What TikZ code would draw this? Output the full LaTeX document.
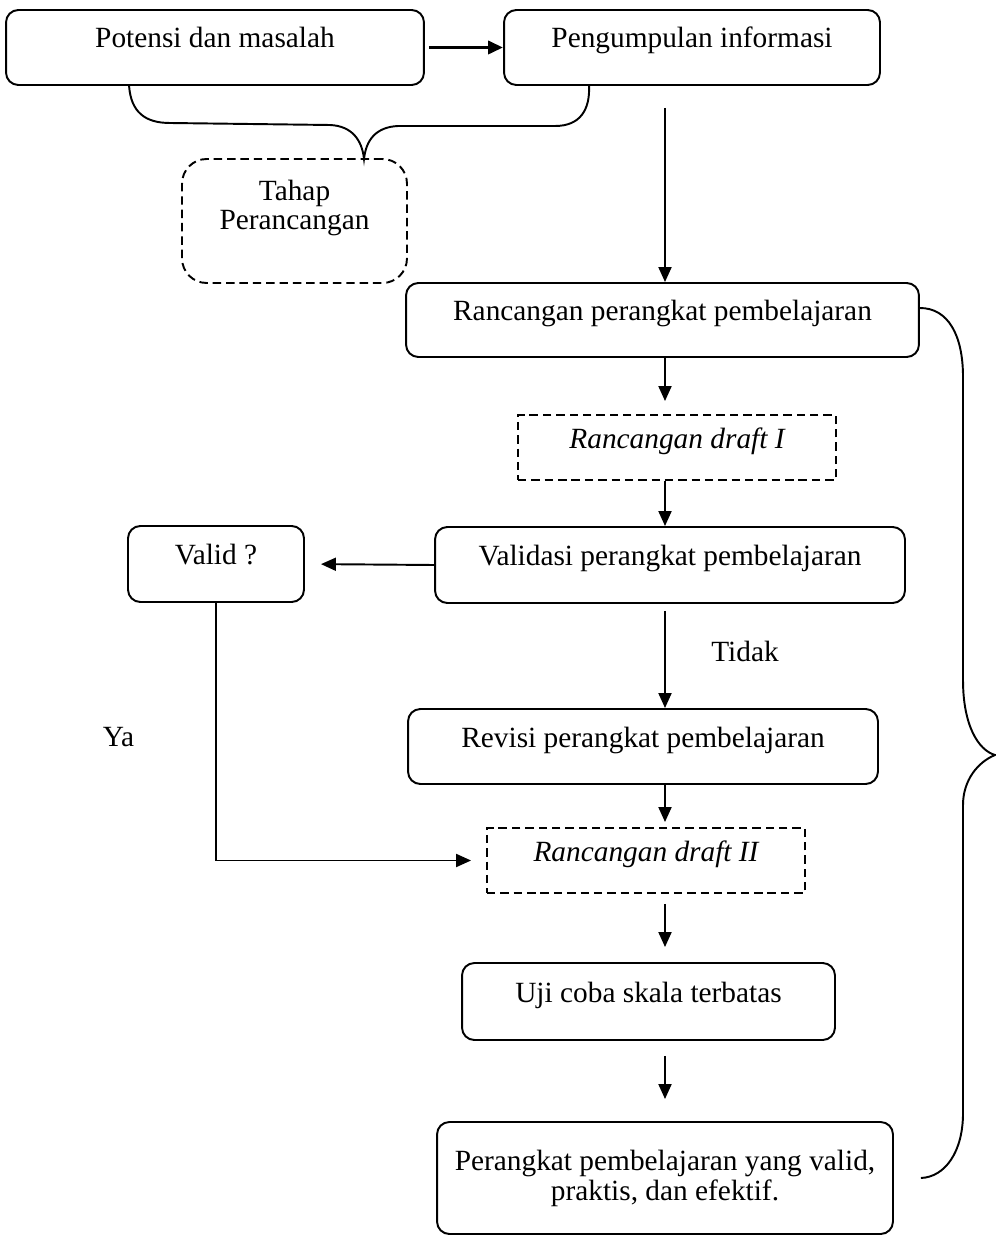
\documentclass[tikz,border=0pt]{standalone}
\usepackage{fontspec}
\setmainfont{Liberation Serif}
\usetikzlibrary{arrows.meta, calc}
\newcommand{\fs}{\fontsize{16.7}{17}\selectfont}

\begin{document}
\begin{tikzpicture}[
  x=0.02cm, y=-0.02cm,
  every node/.style={font=\fs},
  kotak/.style={draw, line width=1.1pt, align=center, text height=0.42cm, text depth=0.40cm},
  tahap/.style={kotak, rounded corners=7pt},
  draf/.style={kotak, dash pattern=on 4.8pt off 2.8pt, font=\fs\itshape},
  arr/.style={-{Triangle[length=0.3cm, width=0.26cm]}, line width=1.1pt},
  kurung/.style={line width=1.1pt}
]
  \useasboundingbox (0,0) rectangle (995,1236);

  \node[tahap, minimum width=8.36cm, minimum height=1.5cm] (pot) at (215,47.5) {Potensi dan masalah};
  \node[tahap, minimum width=7.52cm, minimum height=1.5cm] (peng) at (692,47.5) {Pengumpulan informasi};
  \node[tahap, dash pattern=on 4.8pt off 2.8pt, rounded corners=14pt, text height=1.0cm, text depth=0.64cm,
        minimum width=4.5cm, minimum height=2.48cm] (taha) at (294.5,221) {Tahap\\Perancangan};
  \node[tahap, minimum width=10.26cm, minimum height=1.48cm] (ranc) at (662.5,320) {Rancangan perangkat pembelajaran};
  \node[draf, minimum width=6.36cm, minimum height=1.3cm] (draft1) at (677,447.5) {Rancangan draft I};
  \node[tahap, minimum width=9.4cm, minimum height=1.52cm] (vali) at (670,565) {Validasi perangkat pembelajaran};
  \node[tahap, minimum width=3.52cm, minimum height=1.52cm] (valid) at (216,564) {Valid ?};
  \node[tahap, minimum width=9.4cm, minimum height=1.5cm] (revi) at (643,746.5) {Revisi perangkat pembelajaran};
  \node[draf, minimum width=6.36cm, minimum height=1.3cm] (draft2) at (646,860.5) {Rancangan draft II};
  \node[tahap, minimum width=7.46cm, minimum height=1.54cm] (uji) at (648.5,1001.5) {Uji coba skala terbatas};
  \node[tahap, text height=1.02cm, text depth=0.14cm, inner xsep=2pt, minimum width=9.12cm, minimum height=2.24cm]
    (final) at (665,1178) {Perangkat pembelajaran yang valid,\\praktis, dan efektif.};

  \coordinate (kol) at (665,0);

  \draw[arr, line width=2pt, shorten <=0.08cm] (pot) -- (peng);
  \draw[arr, shorten <=0.44cm] (peng.south -| kol) -- (ranc.north -| kol);
  \draw[arr, shorten >=0.26cm] (ranc.south -| kol) -- (draft1.north -| kol);
  \draw[arr] (draft1.south -| kol) -- (vali.north -| kol);
  \draw[arr, shorten >=0.32cm] (vali.west) -- (valid.east);
  \draw[arr, shorten <=0.14cm] (vali.south -| kol) -- node[pos=0.46, right=0.79cm] (tidak) {Tidak} (revi.north -| kol);
  \draw[arr, shorten >=0.1cm] (revi.south -| kol) -- (draft2.north -| kol);
  \draw[arr, shorten >=0.3cm] (valid.south) |- node[pos=0.26, left=1.5cm] (ya) {Ya} (draft2.west);
  \draw[arr, shorten <=0.2cm, shorten >=0.3cm] (draft2.south -| kol) -- (uji.north -| kol);
  \draw[arr, shorten <=0.3cm, shorten >=0.44cm] (uji.south -| kol) -- (final.north -| kol);

  % kurung kurawal
  \draw[kurung] ($(pot.south west)+(124,0)$) .. controls (131,112) and (145,123) .. (170,123) -- (330,125)
    .. controls (352,126) and (362,140) .. (364,159)
    .. controls (366,140) and (376,127) .. (398,126) -- (555,126)
    .. controls (580,126) and (590,110) .. ($(peng.south west)+(86,0)$);
  \draw[kurung] ([yshift=0.24cm]ranc.east) .. controls (948,308) and (963,335) .. (963,377) -- (963,680)
    .. controls (963,725) and (978,750) .. (995,755)
    .. controls (978,762) and (963,780) .. (963,805) -- (963,1113)
    .. controls (963,1152) and (945,1177) .. ([xshift=0.54cm]final.east);
\end{tikzpicture}
\end{document}
